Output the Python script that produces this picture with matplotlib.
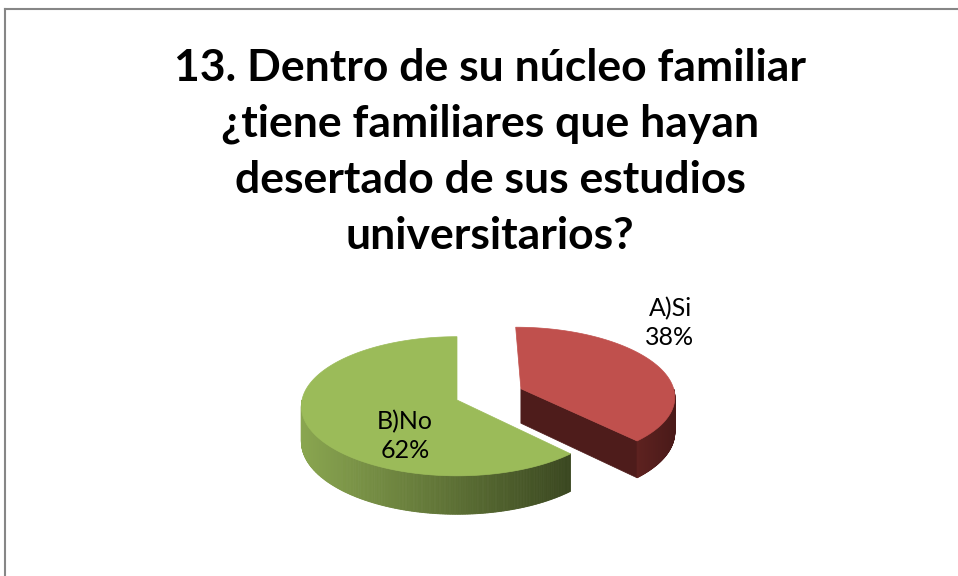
import numpy as np
import matplotlib.pyplot as plt
from matplotlib.patches import Polygon
from matplotlib.colors import to_rgb

# datos
categorias = ["A)Si", "B)No"]
valores = [38, 62]
color_tapa = ["#C0504D", "#9BBB59"]
titulo = "13. Dentro de su núcleo familiar\n¿tiene familiares que hayan\ndesertado de sus estudios\nuniversitarios?"

fig = plt.figure(figsize=(9.58, 5.76), dpi=100)
ax = fig.add_axes([0, 0, 1, 1])
ax.set_xlim(0, 958)
ax.set_ylim(576, 0)
ax.axis("off")

# marco del grafico (solo se ve arriba y a la izquierda)
ax.plot([5, 958], [9, 9], color="#868686", lw=1.5)
ax.plot([5, 5], [9, 576], color="#868686", lw=1.5)

ax.text(490, 152, titulo, ha="center", va="center", fontsize=32,
        fontweight="bold", family="Lato", linespacing=1.47)

# pastel 3D simulado con algo de perspectiva
cx, cy = 457, 400
a, b = 155, 69
prof = 35
k = 0.09
explode = [0.45, 0.0]


def proyectar(u, v, abajo=False):
    f = 1.0 / (1.0 + k * v)
    x = cx + a * u * f
    y = cy - b * v * f + (prof * f if abajo else 0)
    return (x, y)


def mezcla(c1, c2, t):
    c1, c2 = np.array(to_rgb(c1)), np.array(to_rgb(c2))
    return tuple(c1 + (c2 - c1) * t)


total = sum(valores)
ini = np.pi / 2
angulos = []
for v in valores:
    fin = ini - 2 * np.pi * v / total
    angulos.append((fin, ini))
    ini = fin

lado_claro = ["#5E2220", "#8AA650"]
lado_oscuro = ["#4A1A19", "#3A4720"]
etiquetas_pos = [(670, 323), (405, 436)]

for i in range(len(valores)):
    a0, a1 = angulos[i]
    mid = (a0 + a1) / 2
    ou, ov = explode[i] * np.cos(mid), explode[i] * np.sin(mid)

    # cara de corte visible
    if i == 0:
        u1, v1 = ou + np.cos(a0), ov + np.sin(a0)
        cara = [proyectar(ou, ov), proyectar(ou, ov, True),
                proyectar(u1, v1, True), proyectar(u1, v1)]
        ax.add_patch(Polygon(cara, closed=True, fc="#4E1C1B", ec="#4E1C1B", lw=0.5))

    # lado exterior, solo la parte frontal
    ts = np.linspace(a0, a1, 400)
    ts = ts[np.sin(ts) <= 0.0]
    if len(ts) > 1:
        xs = [proyectar(ou + np.cos(t), ov + np.sin(t))[0] for t in ts]
        x0, x1 = min(xs), max(xs)
        for j in range(len(ts) - 1):
            ua, va = ou + np.cos(ts[j]), ov + np.sin(ts[j])
            ub, vb = ou + np.cos(ts[j + 1]), ov + np.sin(ts[j + 1])
            q = [proyectar(ua, va), proyectar(ub, vb),
                 proyectar(ub, vb, True), proyectar(ua, va, True)]
            t = (xs[j] - x0) / max(1, x1 - x0)
            col = mezcla(lado_claro[i], lado_oscuro[i], t)
            ax.add_patch(Polygon(q, closed=True, fc=col, ec=col, lw=0.6))

    # tapa superior
    ts = np.linspace(a0, a1, 300)
    tapa = [proyectar(ou, ov)] + [proyectar(ou + np.cos(t), ov + np.sin(t)) for t in ts]
    ax.add_patch(Polygon(tapa, closed=True, fc=color_tapa[i], ec=color_tapa[i], lw=0.5))

    ex, ey = etiquetas_pos[i]
    ax.text(ex, ey, f"{categorias[i]}\n{valores[i]}%", ha="center", va="center",
            fontsize=18, family="Lato", linespacing=1.33)

fig.savefig("out.png", dpi=100)
